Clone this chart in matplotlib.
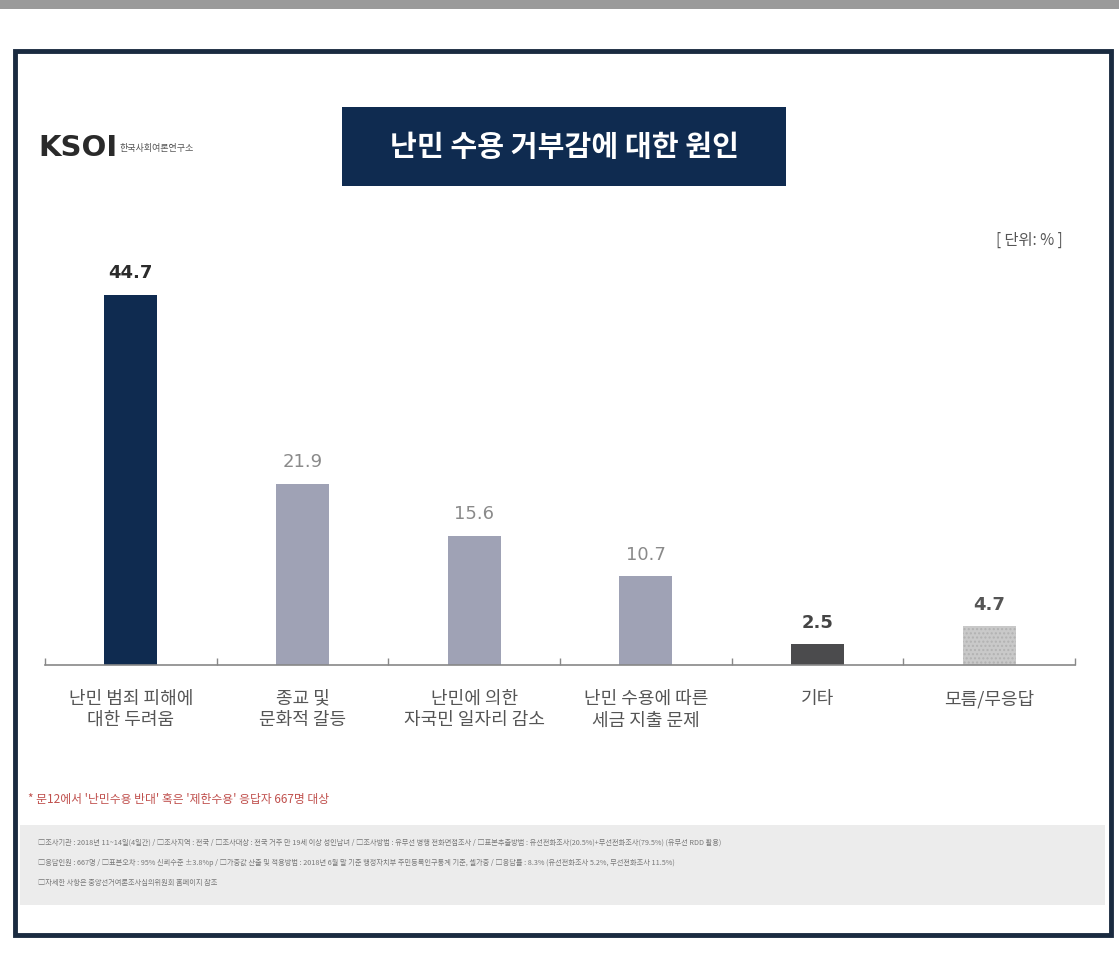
import numpy as np
import matplotlib
matplotlib.use("Agg")
from matplotlib import pyplot as plt
from matplotlib.patches import Rectangle

plt.rcParams['font.family'] = ['Noto Sans CJK KR', 'DejaVu Sans']

# data (unit: %)
categories = ['난민 범죄 피해에\n대한 두려움', '종교 및\n문화적 갈등', '난민에 의한\n자국민 일자리 감소',
              '난민 수용에 따른\n세금 지출 문제', '기타', '모름/무응답']
values = [44.7, 21.9, 15.6, 10.7, 2.5, 4.7]
bar_colors = ['#0f2b50', '#9fa2b5', '#9fa2b5', '#9fa2b5', '#4b4b4d', '#c9c9c9']
label_colors = ['#2b2b2b', '#8a8a8a', '#8a8a8a', '#8a8a8a', '#444444', '#555555']
label_weights = ['bold', 'normal', 'normal', 'normal', 'bold', 'bold']
hatches = ['', '', '', '', '', '....']

title = '난민 수용 거부감에 대한 원인'
unit_note = '[ 단위: % ]'
red_note = '* 문12에서 \'난민수용 반대\' 혹은 \'제한수용\' 응답자 667명 대상'
source_lines = [
    '□조사기관 : 2018년 11~14일(4일간) / □조사지역 : 전국 / □조사대상 : 전국 거주 만 19세 이상 성인남녀 / □조사방법 : 유무선 병행 전화면접조사 / □표본추출방법 : 유선전화조사(20.5%)+무선전화조사(79.5%) (유무선 RDD 활용)',
    '□응답인원 : 667명 / □표본오차 : 95% 신뢰수준 ±3.8%p / □가중값 산출 및 적용방법 : 2018년 6월 말 기준 행정자치부 주민등록인구통계 기준, 셀가중 / □응답률 : 8.3% (유선전화조사 5.2%, 무선전화조사 11.5%)',
    '□자세한 사항은 중앙선거여론조사심의위원회 홈페이지 참조',
]

W, H = 1119, 967
fig = plt.figure(figsize=(W / 100, H / 100), dpi=100)
fig.patch.set_facecolor('white')

def fx(px):
    return px / W

def fy(py):
    return 1 - py / H

# grey strip at the top of the screenshot
fig.patches.append(Rectangle((0, fy(9)), 1, 9 / H, transform=fig.transFigure,
                             facecolor='#9a9a9a', edgecolor='none', zorder=0))

# navy outer frame
fig.patches.append(Rectangle((fx(15), fy(935)), fx(1096), (935 - 51) / H, transform=fig.transFigure,
                             facecolor='none', edgecolor='#1a2b40', linewidth=3.5, zorder=0))

# title box
fig.patches.append(Rectangle((fx(342), fy(186)), fx(444), 79 / H, transform=fig.transFigure,
                             facecolor='#0f2b50', edgecolor='none', zorder=1))
fig.text(fx(564), fy(147), title, color='white', fontsize=21, fontweight='bold',
         ha='center', va='center', zorder=2)

# logo
fig.text(fx(38), fy(148), 'KSOI', color='#2a2a2a', fontsize=21, fontweight='bold',
         ha='left', va='center', family=['DejaVu Sans'])
fig.text(fx(120), fy(149), '한국사회여론연구소', color='#555555', fontsize=6.5,
         ha='left', va='center')
fig.text(fx(1063), fy(240), unit_note, color='#555555', fontsize=11,
         ha='right', va='center')

# footer box
fig.patches.append(Rectangle((fx(20), fy(905)), fx(1085), 80 / H, transform=fig.transFigure,
                             facecolor='#ececec', edgecolor='none', zorder=0))

# bar chart
ax = fig.add_axes([fx(45), fy(665), fx(1030), 414 / H])
ax.set_zorder(5)
x = np.arange(len(categories))
bars = ax.bar(x, values, width=0.31, color=bar_colors, edgecolor='none', zorder=2)
for b, h in zip(bars, hatches):
    if h:
        b.set_hatch(h)
        b.set_edgecolor('#b2b2b2')
        b.set_linewidth(0)

for xi, v, c, w in zip(x, values, label_colors, label_weights):
    ax.text(xi, v + 1.5, f'{v:.1f}', ha='center', va='bottom', fontsize=13,
            color=c, fontweight=w, family=['Liberation Sans Narrow', 'DejaVu Sans'])

ax.set_xlim(-0.5, len(categories) - 0.5)
ax.set_ylim(0, 50)
ax.set_yticks([])
ax.set_xticks(np.arange(-0.5, len(categories)))
ax.set_xticklabels([])
ax.tick_params(axis='x', direction='in', length=5, width=1, color='#888888')
for s in ['top', 'right', 'left']:
    ax.spines[s].set_visible(False)
ax.spines['bottom'].set_color('#888888')
ax.spines['bottom'].set_linewidth(1.2)
ax.patch.set_alpha(0)

for xi, cat in zip(x, categories):
    ax.text(xi, -3.0, cat, ha='center', va='top', fontsize=13, color='#555555',
            linespacing=1.25)

# notes
fig.text(fx(28), fy(799), red_note, color='#c0504d', fontsize=8.5, ha='left', va='center')
for i, line in enumerate(source_lines):
    fig.text(fx(38), fy(843 + i * 20), line, color='#777777', fontsize=5.2,
             ha='left', va='center')

fig.savefig('out.png', dpi=100)
